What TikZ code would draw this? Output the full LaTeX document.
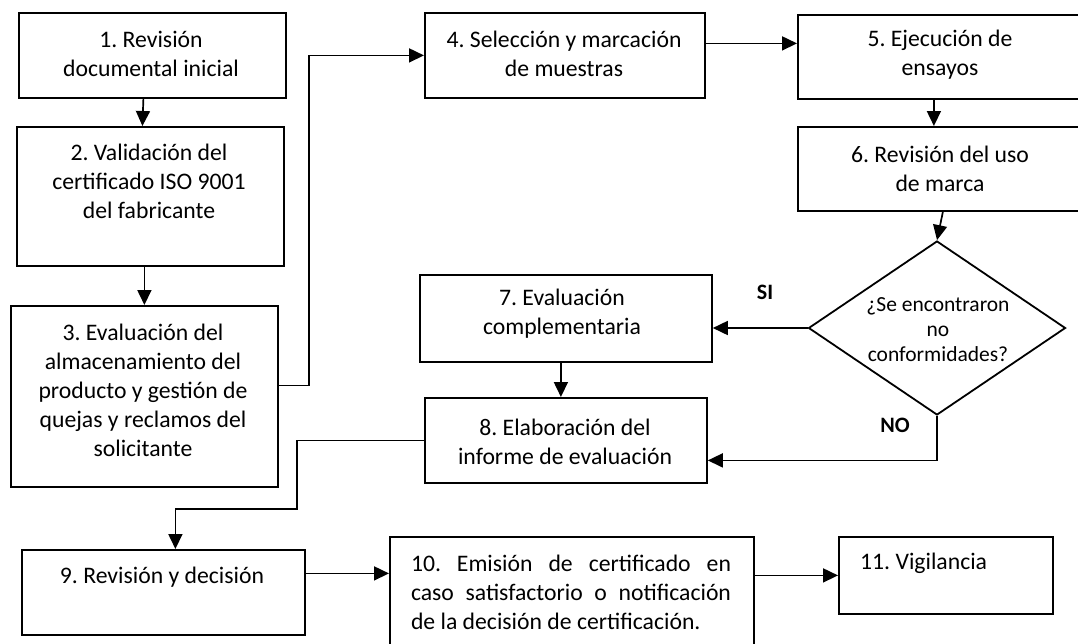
\documentclass[tikz,border=0pt]{standalone}
\usepackage{fontspec}
\setmainfont{Carlito}
\usetikzlibrary{shapes.geometric,arrows.meta,positioning}

\begin{document}
\begin{tikzpicture} [
  x=1pt, y=-1pt,
  >={Triangle[length=15pt,width=14pt]},
  box/.style={draw, line width=1.8pt, rectangle, anchor=north west, inner sep=0},
  txt/.style={align=center, inner sep=0, font=\fontsize{23.7}{29}\selectfont\frenchspacing},
  ask/.style={align=center, inner sep=0, font=\fontsize{21.5}{25}\selectfont},
  tag/.style={inner sep=0, font=\fontsize{22}{26}\selectfont\bfseries},
  link/.style={->, line width=1.7pt}
  ]
  \useasboundingbox (0,0) rectangle (1078,643);
  % boxes
  \node (n1) [box, minimum width=267, minimum height=85] at (18,12) {};
  \node (n2) [box, minimum width=267, minimum height=139] at (16,126) {};
  \node (n3) [box, minimum width=267, minimum height=181] at (10,305) {};
  \node (n4) [box, minimum width=280, minimum height=85] at (424,12) {};
  \node (n5) [box, minimum width=284, minimum height=84] at (797,14) {};
  \node (n6) [box, minimum width=284, minimum height=84] at (797,126) {};
  \node (nq) [draw, line width=1.8pt, diamond, inner sep=0,
    minimum width=257, minimum height=174] at (937,328) {};
  \node (n7) [box, minimum width=292, minimum height=87] at (419,274) {};
  \node (n8) [box, minimum width=282, minimum height=85] at (424,397) {};
  \node (n9) [box, minimum width=283, minimum height=85] at (21,549) {};
  \node (n10) [box, minimum width=364, minimum height=124] at (389,536) {};
  \node (n11) [box, minimum width=214, minimum height=77] at (838,536) {};
  % texts
  \node (t1) [txt] at (151,54) {1. Revisión\\documental inicial};
  \node (t2) [txt] at (149,181) {2. Validación del\\certificado ISO 9001\\del fabricante};
  \node (t3) [txt] at (143,390) {3. Evaluación del\\almacenamiento del\\producto y gestión de\\quejas y reclamos del\\solicitante};
  \node (t4) [txt] at (564,54) {4. Selección y marcación\\de muestras};
  \node (t5) [txt] at (940,55) {5. Ejecución de\\ensayos};
  \node (t6) [txt] at (940,169) {6. Revisión del uso\\de marca};
  \node (tq) [ask] at (938,330) {¿Se encontraron\\no\\conformidades?};
  \node (t7) [txt] at (562,314) {7. Evaluación\\complementaria};
  \node (t8) [txt] at (565,442) {8. Elaboración del\\informe de evaluación};
  \node (t9) [txt] at (162,577) {9. Revisión y decisión};
  \node (t10) [txt, align=justify, text width=320] at (571,592)
    {10. Emisión de certificado en\linebreak caso satisfactorio o notificación\linebreak de la decisión de certificación.};
  \node (t11) [txt, anchor=west] at (860,563) {11. Vigilancia};
  \node (si) [tag] at (765,292) {SI};
  \node (no) [tag] at (895,425) {NO};
  % connectors
  \coordinate (c1) at (297,509);
  \draw [link] ([xshift=-9pt]n1.south) -- ([xshift=-8pt]n2.north);
  \draw [link] (n3.north |- n2.south) -- (n3.north);
  \draw [link] ([yshift=11pt]n3.east) -- ++(30,0) |- (n4.west);
  \draw [link] ([yshift=12pt]n4.east) -- ([yshift=12pt]n4.east -| n5.west);
  \draw [link] ([xshift=-6pt]n5.south) -- ([xshift=-6pt]n6.north);
  \draw [link] ([xshift=3pt]n6.south) -- (nq.north);
  \draw [link] (nq.west) -- (nq.west -| n7.east);
  \draw [link] ([xshift=-5pt]n7.south) -- ([xshift=-5pt]n8.north);
  \draw [link] (nq.south) |- ([yshift=-20pt]n8.east);
  \draw [link] (n8.west) -| (c1) -| ([xshift=12pt]n9.north);
  \draw [link] ([yshift=19pt]n9.east) -- ([yshift=19pt]n9.east -| n10.west);
  \draw [link] (n11.west -| n10.east) -- (n11.west);
\end{tikzpicture}
\end{document}
